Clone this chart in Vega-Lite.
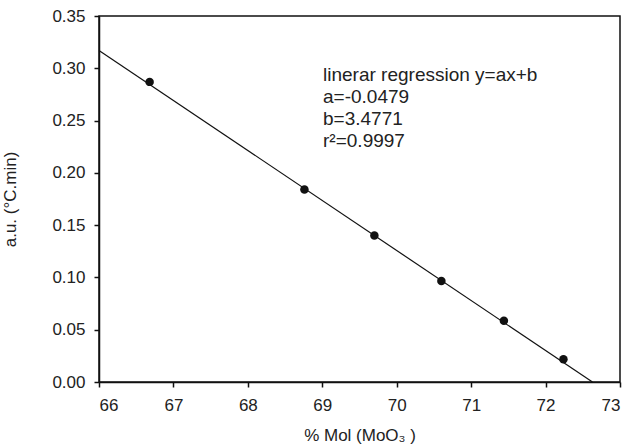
{
  "$schema": "https://vega.github.io/schema/vega-lite/v6.json",
  "width": 521,
  "height": 366,
  "autosize": {"type": "none"},
  "padding": {"left": 99, "top": 16, "right": 10, "bottom": 63},
  "background": "white",
  "config": {
    "font": "Liberation Sans",
    "view": {"stroke": "#111", "strokeWidth": 1.5},
    "axis": {
      "grid": false,
      "domainColor": "#111",
      "domainWidth": 1.5,
      "tickColor": "#111",
      "tickWidth": 1.5,
      "tickSize": 5,
      "labelFont": "Liberation Sans",
      "labelFontSize": 17,
      "labelColor": "#222",
      "titleFont": "Liberation Sans",
      "titleFontSize": 17,
      "titleFontWeight": "normal",
      "titleColor": "#222"
    }
  },
  "datasets": {
    "points": [
      {"x": 66.68, "y": 0.287},
      {"x": 68.76, "y": 0.184},
      {"x": 69.70, "y": 0.140},
      {"x": 70.60, "y": 0.0966},
      {"x": 71.44, "y": 0.0586},
      {"x": 72.24, "y": 0.0217}
    ],
    "fit": [
      {"x": 66.0, "y": 0.317},
      {"x": 72.63, "y": 0.0}
    ],
    "note": [
      {"x": 69.01, "y": 0.302, "label": ["linerar regression y=ax+b", "a=-0.0479", "b=3.4771", "r²=0.9997"]}
    ]
  },
  "layer": [
    {
      "data": {"name": "fit"},
      "mark": {"type": "line", "color": "#111", "strokeWidth": 1.2},
      "encoding": {
        "x": {
          "field": "x", "type": "quantitative",
          "scale": {"domain": [66, 73], "nice": false, "zero": false},
          "axis": {"values": [66, 67, 68, 69, 70, 71, 72, 73], "format": "d", "labelPadding": 10, "title": "% Mol (MoO₃ )", "titlePadding": 14}
        },
        "y": {
          "field": "y", "type": "quantitative",
          "scale": {"domain": [0, 0.35], "nice": false},
          "axis": {"values": [0, 0.05, 0.1, 0.15, 0.2, 0.25, 0.3, 0.35], "format": ".2f", "labelPadding": 9, "title": "a.u. (°C.min)", "titlePadding": 32}
        }
      }
    },
    {
      "data": {"name": "points"},
      "mark": {"type": "point", "filled": true, "color": "#111", "size": 72, "opacity": 1},
      "encoding": {
        "x": {"field": "x", "type": "quantitative"},
        "y": {"field": "y", "type": "quantitative"}
      }
    },
    {
      "data": {"name": "note"},
      "mark": {"type": "text", "align": "left", "baseline": "top", "fontSize": 19, "lineHeight": 22, "color": "#222", "font": "Liberation Sans"},
      "encoding": {
        "x": {"field": "x", "type": "quantitative"},
        "y": {"field": "y", "type": "quantitative"},
        "text": {"field": "label"}
      }
    }
  ]
}
